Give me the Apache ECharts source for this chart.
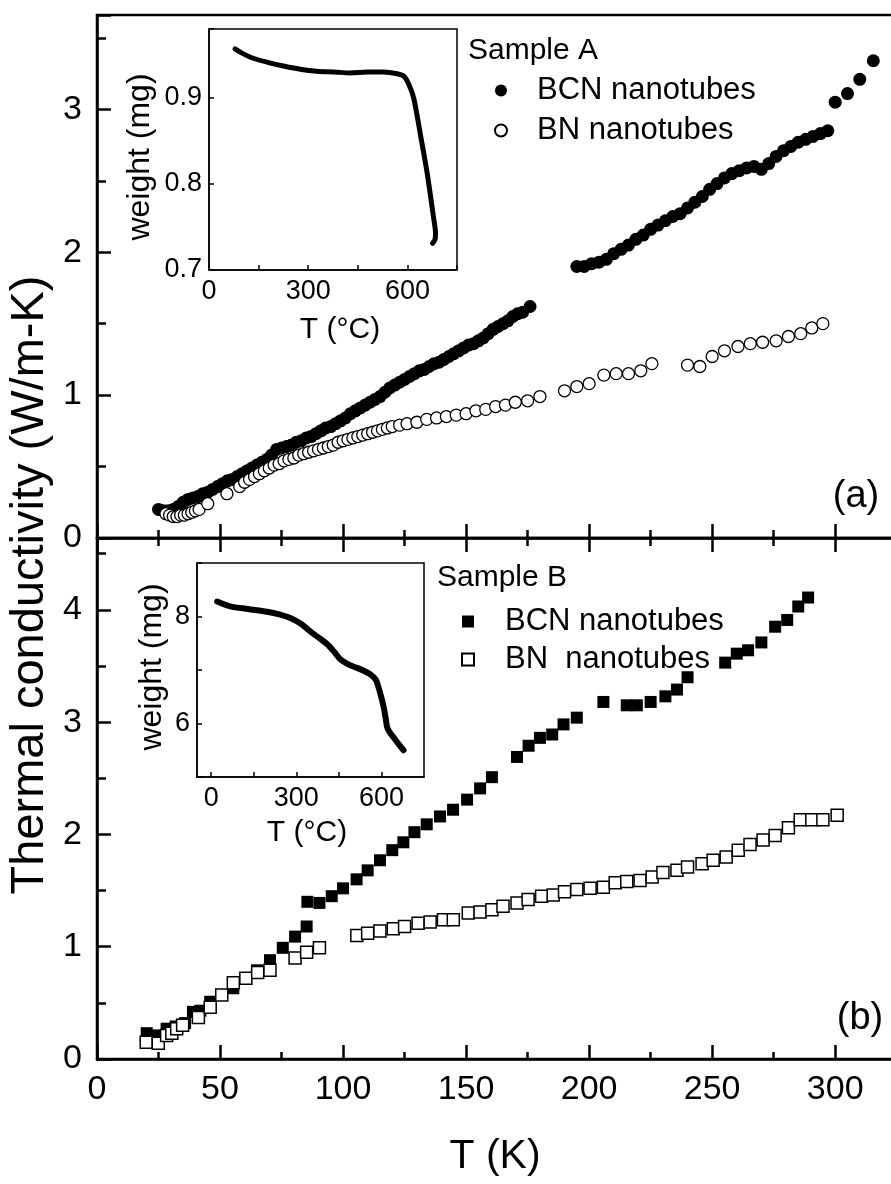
<!DOCTYPE html>
<html><head><meta charset="utf-8">
<script src="https://cdn.jsdelivr.net/npm/echarts@6/dist/echarts.min.js"></script>
<style>html,body{margin:0;padding:0;background:#fff;overflow:hidden;width:891px;height:1184px}#main{width:920px;height:1184px}</style>
</head><body><div id="main"></div>
<script>
// ---------- DATA ----------
// Panel (a) Sample A
const aBcnT = [25,27,29,31,33,35,37,39,41,43,45,47,49,51,53,55,57,59,61,63,65,67,69,71,73,75,77,79,81,83,85,87,89,91,93,95,97,99,101,103,105,107,109,111,113,115,117,119,121,123,125,127,129,131,133,135,137,139,141,143,145,147,149,151,153,155,157,159,161,163,165,167,169,171,173,176,
  195,198,201,204,207,210,213,216,219,222,225,228,231,234,237,240,243,246,249,252,255,258,261,264,267,270,273,276,279,282,285,288,291,294,297,300,305,310,315.5];
const aBcnK = [0.20,0.19,0.19,0.20,0.22,0.25,0.27,0.28,0.29,0.31,0.32,0.34,0.36,0.38,0.40,0.41,0.43,0.45,0.47,0.49,0.51,0.53,0.55,0.58,0.62,0.63,0.64,0.65,0.67,0.68,0.70,0.71,0.73,0.75,0.77,0.78,0.80,0.82,0.84,0.87,0.89,0.91,0.93,0.95,0.97,0.99,1.02,1.05,1.07,1.09,1.11,1.13,1.15,1.17,1.18,1.20,1.22,1.23,1.25,1.27,1.29,1.31,1.33,1.35,1.36,1.38,1.40,1.43,1.46,1.48,1.50,1.52,1.55,1.57,1.58,1.62,
  1.90,1.90,1.92,1.93,1.95,1.99,2.02,2.05,2.09,2.12,2.16,2.19,2.22,2.25,2.27,2.31,2.35,2.39,2.44,2.48,2.52,2.55,2.57,2.59,2.60,2.58,2.62,2.67,2.71,2.74,2.77,2.79,2.81,2.83,2.85,3.05,3.11,3.21,3.34];
const aBnT = [28,29.5,31,32.5,34,35.5,37,38.5,40,41.5,45,52.8,58,60,62,64,66,68,70,72,74,76,78,80,82,84,86,88,90,92,94,96,98,100,102,104,106,108,110,112,114,116,118,120,123,126,130,134,138,142,146,150,154,158,162,166,170,175,180,
  190,195,200,206,211,216,221,225.5,
  240,245,250,255,260.5,265.5,270.5,276,281,286,290.5,295];
const aBnK = [0.17,0.16,0.15,0.15,0.16,0.16,0.17,0.18,0.19,0.20,0.24,0.31,0.36,0.39,0.41,0.43,0.45,0.47,0.49,0.51,0.52,0.54,0.55,0.56,0.58,0.59,0.60,0.61,0.62,0.63,0.64,0.65,0.67,0.68,0.69,0.70,0.71,0.72,0.73,0.74,0.75,0.76,0.77,0.78,0.79,0.80,0.81,0.83,0.84,0.85,0.86,0.87,0.89,0.90,0.92,0.93,0.95,0.96,0.99,
  1.03,1.06,1.08,1.14,1.15,1.15,1.17,1.22,
  1.21,1.20,1.27,1.31,1.34,1.36,1.37,1.38,1.41,1.43,1.47,1.50];
// Panel (b) Sample B
const bBcnT = [20.2,24.3,28.3,32,35.8,39,42,46,55.4,65,70.3,75.5,80.5,85.2,85.5,90.4,95.4,100,105.5,110,115,120,124.5,129,134,139.4,144.7,150.4,155.7,160.5,170.7,175.4,180,185,189.6,195,205.8,215.3,219.4,225,231,235.7,240,255.3,260,264.6,270,275.6,280.5,285,289];
const bBcnK = [0.23,0.21,0.27,0.29,0.32,0.42,0.43,0.51,0.63,0.79,0.88,0.99,1.09,1.18,1.40,1.39,1.45,1.52,1.60,1.68,1.77,1.86,1.93,2.02,2.09,2.16,2.22,2.31,2.41,2.51,2.69,2.79,2.86,2.89,2.98,3.04,3.18,3.15,3.15,3.18,3.23,3.29,3.40,3.53,3.61,3.64,3.71,3.85,3.91,4.03,4.11];
const bBnT = [20,24.9,28.3,30.4,32.4,34.8,41.2,46,50.7,55.4,60.5,65.3,70.3,80.5,85.2,90.4,105.6,110,115,120.4,125,130.5,135.4,140.8,144.8,150.9,155.7,160.5,165,170.7,175.2,180.7,185.4,190,195,200.4,205.8,210.6,215.3,220.7,225.6,230,235.7,240,245.9,250.4,255.7,260.6,265.4,270.7,275.6,281,285.8,290.5,295,300.8];
const bBnK = [0.15,0.14,0.21,0.23,0.27,0.30,0.37,0.46,0.57,0.68,0.72,0.77,0.79,0.90,0.95,0.99,1.10,1.12,1.14,1.16,1.18,1.21,1.22,1.24,1.24,1.30,1.31,1.33,1.36,1.39,1.42,1.45,1.46,1.49,1.51,1.52,1.53,1.57,1.58,1.59,1.62,1.66,1.68,1.71,1.74,1.77,1.80,1.86,1.91,1.95,1.99,2.06,2.13,2.13,2.13,2.17];
// Insets (TGA)
const insATc = [79,100,134,180,225,280,326,380,427,480,528,569,590,605,619,639,660,679,685,684,676];
const insAW  = [0.957,0.952,0.946,0.941,0.937,0.933,0.931,0.930,0.929,0.930,0.930,0.928,0.925,0.915,0.900,0.858,0.812,0.761,0.743,0.736,0.731];
const insBTc = [21,67,130,197,240,279,320,349,380,409,435,455,485,514,540,561,580,590,600,608,615,620,630,643,660,678];
const insBW  = [8.28,8.19,8.14,8.09,8.04,7.97,7.85,7.72,7.60,7.48,7.33,7.20,7.10,7.04,6.98,6.92,6.82,6.67,6.48,6.30,6.10,5.93,5.83,5.74,5.62,5.50];
// Tick labels
const mainXTicks = [0,50,100,150,200,250,300];
const topYTicks = [0,1,2,3];
const botYTicks = [0,1,2,3,4];
const insAXLabels = [0,300,600];
const insAYLabels = [0.7,0.8,0.9];
const insBXTicks = [0,150,300,450,600];
const insBXLabels = [0,300,600];
const insBYLabels = [6,8];

// ---------- CHART ----------
const zip = (a, b) => a.map((v, i) => [v, b[i]]);
const FONT = '"Liberation Sans", Arial, Helvetica, sans-serif';
const K = '#000';
const sq = 'path://M0 0H10V10H0Z';
const TOP = { left: 97, top: 15, width: 812, height: 523 };
const BOT = { left: 97, top: 538, width: 812, height: 521 };
const IA = { left: 209, top: 29, width: 248, height: 241 };
const IB = { left: 197, top: 563, width: 227, height: 214 };

const grids = [], xAxes = [], yAxes = [];
const hidAx = { type: 'value', show: false, min: 0, max: 1 };
function addGrid(rect, xa, ya) {
  const gi = grids.length;
  grids.push(Object.assign({ show: false }, rect));
  xAxes.push(Object.assign({ gridIndex: gi }, xa || hidAx));
  yAxes.push(Object.assign({ gridIndex: gi }, ya || hidAx));
  return gi;
}
// axis with line + labels, no ticks
const lineAx = (o, w) => Object.assign({
  type: 'value', offset: 0, splitLine: { show: false },
  axisLine: { show: true, onZero: false, lineStyle: { color: K, width: w || 2.5 } },
  axisTick: { show: false }, axisLabel: { show: false }
}, o);
// tick-only axis, ticks point outward (away from its own grid)
const tkAx = (o, len, w) => Object.assign({
  type: 'value', offset: 0, splitLine: { show: false },
  axisLine: { show: false, onZero: false }, axisLabel: { show: false },
  axisTick: { show: true, inside: false, length: len, lineStyle: { color: K, width: w || 2.5 } }
}, o);
const mainLbl = (list, m) => ({ show: true, fontSize: 34, color: K, fontFamily: FONT, margin: m,
  formatter: v => (list.includes(+v) ? String(v) : '') });
const inLbl = (list, m, fmt) => ({ show: true, fontSize: 27, color: K, fontFamily: FONT, margin: m,
  formatter: v => (list.some(t => Math.abs(t - v) < 1e-6) ? fmt(v) : '') });

// 0: top panel
addGrid(Object.assign({}, TOP, { show: true, borderColor: K, borderWidth: 2.5, backgroundColor: 'transparent' }),
  Object.assign(tkAx({ min: 0, max: 330, interval: 50, position: 'bottom' }, 14), { axisLine: { show: true, onZero: false, lineStyle: { color: K, width: 2.5 } } }),
  lineAx({ min: 0, max: 3.66, interval: 1, position: 'left', axisLabel: mainLbl(topYTicks, 15) }));
// 1: bottom panel
addGrid(Object.assign({}, BOT, { show: true, borderColor: K, borderWidth: 2.5, backgroundColor: 'transparent' }),
  lineAx({ min: 0, max: 330, interval: 50, position: 'bottom', axisLabel: mainLbl(mainXTicks, 14) }),
  lineAx({ min: 0, max: 4.64, interval: 1, position: 'left', axisLabel: mainLbl(botYTicks, 15) }));
// 2: inset A
addGrid(Object.assign({}, IA, { show: true, borderColor: K, borderWidth: 1.5, backgroundColor: '#fff' }),
  lineAx({ min: 0, max: 750, interval: 150, position: 'bottom', axisLabel: inLbl(insAXLabels, 8, v => String(v)) }, 1.5),
  lineAx({ min: 0.7, max: 0.98, interval: 0.1, position: 'left', axisLabel: inLbl(insAYLabels, 7, v => (+v).toFixed(1)) }, 1.5));
// 3: inset B
addGrid(Object.assign({}, IB, { show: true, borderColor: K, borderWidth: 1.5, backgroundColor: '#fff' }),
  lineAx({ min: -50, max: 750, position: 'bottom', axisLabel: { show: true, fontSize: 27, color: K, fontFamily: FONT, margin: 8, customValues: insBXLabels } }, 1.5),
  lineAx({ min: 5, max: 9, interval: 1, position: 'left', axisLabel: inLbl(insBYLabels, 7, v => String(v)) }, 1.5));

// tick grids (ticks all point outward from their own grid, i.e. inward into the panels)
addGrid(TOP, tkAx({ min: 0, max: 330, interval: 25, position: 'bottom' }, 8));                 // top panel minor x (down)
addGrid(BOT, tkAx({ min: 0, max: 330, interval: 50, position: 'top' }, 14));                   // bottom panel top-edge major (up)
addGrid(BOT, tkAx({ min: 0, max: 330, interval: 25, position: 'top' }, 8));                    // bottom panel top-edge minor (up)
const BELOW = { left: 97, top: 1059, width: 812, height: 100 };
addGrid(BELOW, tkAx({ min: 0, max: 330, interval: 50, position: 'top' }, 14));                 // bottom axis major (up into plot)
addGrid(BELOW, tkAx({ min: 0, max: 330, interval: 25, position: 'top' }, 7));                  // bottom axis minor
const LEFT_T = { left: 0, top: 15, width: 97, height: 523 };
const LEFT_B = { left: 0, top: 538, width: 97, height: 521 };
addGrid(LEFT_T, null, tkAx({ min: 0, max: 3.66, interval: 1, position: 'right' }, 14));
addGrid(LEFT_T, null, tkAx({ min: 0, max: 3.66, interval: 0.5, position: 'right' }, 9));
addGrid(LEFT_B, null, tkAx({ min: 0, max: 4.64, interval: 1, position: 'right' }, 14));
addGrid(LEFT_B, null, tkAx({ min: 0, max: 4.64, interval: 0.5, position: 'right' }, 9));
// inset ticks
addGrid({ left: 0, top: IA.top, width: IA.left, height: IA.height }, null, tkAx({ min: 0.7, max: 0.98, interval: 0.1, position: 'right' }, 5, 1.5));
addGrid({ left: 0, top: IB.top, width: IB.left, height: IB.height }, null, tkAx({ min: 5, max: 9, interval: 1, position: 'right' }, 5, 1.5));
addGrid({ left: IA.left, top: IA.top + IA.height, width: IA.width, height: 30 }, tkAx({ min: 0, max: 750, interval: 150, position: 'top' }, 5, 1.5));
addGrid({ left: IB.left, top: IB.top + IB.height, width: IB.width, height: 30 },
  tkAx({ min: -50, max: 750, position: 'top', axisTick: { show: true, inside: false, length: 5, customValues: insBXTicks, lineStyle: { color: K, width: 1.5 } } }, 5, 1.5));

const chart = echarts.init(document.getElementById('main'), null, { renderer: 'canvas' });
chart.setOption({
  animation: false,
  backgroundColor: '#fff',
  grid: grids,
  xAxis: xAxes,
  yAxis: yAxes,
  legend: [
    { orient: 'vertical', left: 494, top: 75, padding: 0, itemWidth: 62, itemHeight: 12, itemGap: 9, selectedMode: false,
      textStyle: { fontSize: 31, lineHeight: 30, color: K, fontFamily: FONT },
      data: [{ name: 'BCN nanotubes', icon: 'circle' }, { name: 'BN nanotubes', icon: 'circle' }] },
    { orient: 'vertical', left: 461, top: 606, padding: 0, itemWidth: 64, itemHeight: 12, itemGap: 7, selectedMode: false,
      textStyle: { fontSize: 31, lineHeight: 30, color: K, fontFamily: FONT },
      data: [{ name: 'BCN nanotubes ', icon: sq }, { name: 'BN  nanotubes', icon: sq }] }
  ],
  series: [
    { name: 'BCN nanotubes', type: 'scatter', xAxisIndex: 0, yAxisIndex: 0, symbol: 'circle', symbolSize: 13,
      itemStyle: { color: K, opacity: 1 }, data: zip(aBcnT, aBcnK), z: 3 },
    { name: 'BN nanotubes', type: 'scatter', xAxisIndex: 0, yAxisIndex: 0, symbol: 'circle', symbolSize: 12,
      itemStyle: { color: '#fff', borderColor: K, borderWidth: 1.3, opacity: 1 }, data: zip(aBnT, aBnK), z: 4 },
    { name: 'BCN nanotubes ', type: 'scatter', xAxisIndex: 1, yAxisIndex: 1, symbol: 'rect', symbolSize: 12,
      itemStyle: { color: K, opacity: 1 }, data: zip(bBcnT, bBcnK), z: 3 },
    { name: 'BN  nanotubes', type: 'scatter', xAxisIndex: 1, yAxisIndex: 1, symbol: 'rect', symbolSize: 12,
      itemStyle: { color: '#fff', borderColor: K, borderWidth: 1.5, opacity: 1 }, data: zip(bBnT, bBnK), z: 4 },
    { name: 'TGA A', type: 'line', xAxisIndex: 2, yAxisIndex: 2, showSymbol: false, smooth: 0.3,
      lineStyle: { color: K, width: 5, cap: 'round', join: 'round' }, data: zip(insATc, insAW), z: 5 },
    { name: 'TGA B', type: 'line', xAxisIndex: 3, yAxisIndex: 3, showSymbol: false, smooth: 0.3,
      lineStyle: { color: K, width: 6, cap: 'round', join: 'round' }, data: zip(insBTc, insBW), z: 5 }
  ],
  graphic: [
    { type: 'text', x: 30, y: 585, rotation: Math.PI / 2, style: { text: 'Thermal conductivity (W/m-K)', font: '47px ' + FONT, fill: K, align: 'center', verticalAlign: 'middle' } },
    { type: 'text', x: 495, y: 1157, style: { text: 'T (K)', font: '41px ' + FONT, fill: K, align: 'center', verticalAlign: 'middle' } },
    { type: 'text', x: 468, y: 51, style: { text: 'Sample A', font: '30px ' + FONT, fill: K, align: 'left', verticalAlign: 'middle' } },
    { type: 'text', x: 437, y: 578, style: { text: 'Sample B', font: '30px ' + FONT, fill: K, align: 'left', verticalAlign: 'middle' } },
    { type: 'text', x: 856, y: 497, style: { text: '(a)', font: '38px ' + FONT, fill: K, align: 'center', verticalAlign: 'middle' } },
    { type: 'text', x: 860, y: 1019, style: { text: '(b)', font: '38px ' + FONT, fill: K, align: 'center', verticalAlign: 'middle' } },
    { type: 'text', x: 340, y: 330, style: { text: 'T (°C)', font: '30px ' + FONT, fill: K, align: 'center', verticalAlign: 'middle' } },
    { type: 'text', x: 307, y: 833, style: { text: 'T (°C)', font: '30px ' + FONT, fill: K, align: 'center', verticalAlign: 'middle' } },
    { type: 'text', x: 140, y: 157, rotation: Math.PI / 2, style: { text: 'weight (mg)', font: '32px ' + FONT, fill: K, align: 'center', verticalAlign: 'middle' } },
    { type: 'text', x: 152, y: 667, rotation: Math.PI / 2, style: { text: 'weight (mg)', font: '32px ' + FONT, fill: K, align: 'center', verticalAlign: 'middle' } }
  ]
});
</script></body></html>
